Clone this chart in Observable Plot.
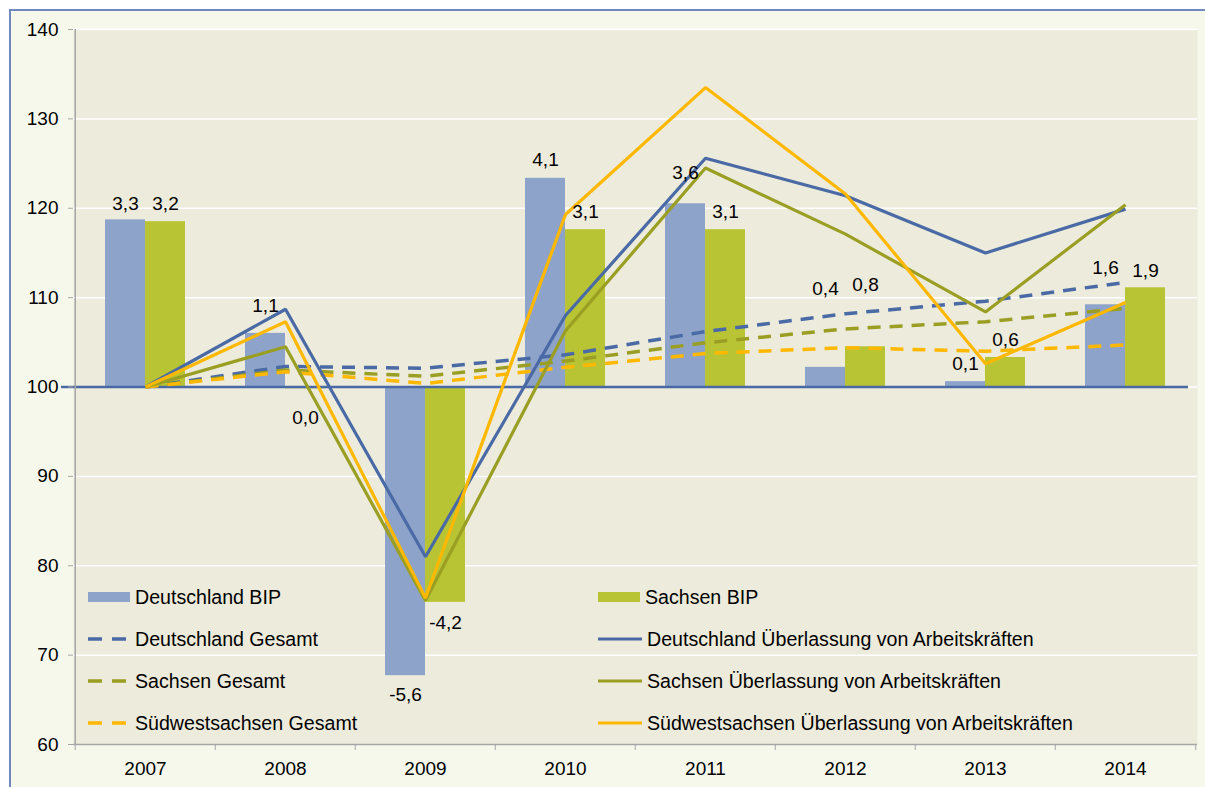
<!DOCTYPE html>
<html>
<head>
<meta charset="utf-8">
<script src="https://cdn.jsdelivr.net/npm/d3@7"></script>
<script src="https://cdn.jsdelivr.net/npm/@observablehq/plot@0.6"></script>
<style>
  html, body { margin: 0; padding: 0; background: #ffffff; width: 1205px; height: 787px; overflow: hidden; }
  #frame { position: absolute; left: 9px; top: 9px; width: 1210px; height: 800px; background: #F7F8EC;
           border-left: 2px solid #7088BC; border-top: 2px solid #7088BC; box-sizing: border-box; }
  #chart { position: absolute; left: 0; top: 0; }
  .lg { position: absolute; font-family: "Liberation Sans", Arial, sans-serif; font-size: 19.6px; color: #000;
        display: flex; align-items: center; white-space: nowrap; height: 24px; }
  .lg svg { margin-right: 5px; }
</style>
</head>
<body>
<div id="frame"></div>
<div id="chart"></div>
<div id="legend"></div>
<script>
// ---- data ----
const years = ["2007", "2008", "2009", "2010", "2011", "2012", "2013", "2014"];
// BIP bars, drawn in index units around the 100 line
const bipDeutschland = [118.7, 106.0, 67.7, 123.35, 120.5, 102.2, 100.6, 109.2];
const bipSachsen     = [118.5, 99.8, 75.9, 117.6, 117.6, 104.5, 103.3, 111.1];
// BIP growth labels
const labelDeutschland = ["3,3", "1,1", "-5,6", "4,1", "3,6", "0,4", "0,1", "1,6"];
const labelSachsen     = ["3,2", "0,0", "-4,2", "3,1", "3,1", "0,8", "0,6", "1,9"];
// label anchor heights (index units)
const labelYDeutschland = [120.5, 109.1, 65.5, 125.4, 124.0, 111.0, 102.6, 113.35];
const labelYSachsen     = [120.5, 96.5, 73.55, 119.6, 119.6, 111.4, 105.3, 113.0];
// Index series (2007 = 100)
const deutschlandGesamt    = [100, 102.3, 102.1, 103.6, 106.2, 108.2, 109.6, 111.7];
const sachsenGesamt        = [100, 101.9, 101.2, 102.9, 104.95, 106.5, 107.3, 108.8];
const suedwestGesamt       = [100, 101.7, 100.4, 102.2, 103.75, 104.4, 104.0, 104.7];
const deutschlandAUe       = [100, 108.7, 81.0, 108.0, 125.6, 121.4, 115.0, 119.9];
const sachsenAUe           = [100, 104.5, 76.1, 106.3, 124.5, 117.1, 108.4, 120.4];
const suedwestAUe          = [100, 107.3, 76.4, 119.3, 133.5, 121.6, 102.6, 109.45];
const yTicks = [60, 70, 80, 90, 100, 110, 120, 130, 140];

// ---- styles ----
const C = {
  deBar: "#8EA3CA", snBar: "#B8C433",
  de: "#4A6AA5", sn: "#9A9F24", sw: "#FFB800",
  plotBg: "#EDEBDB", axis: "#A6A6A6"
};

const rows = years.map((y, i) => ({
  year: y, de: bipDeutschland[i], sn: bipSachsen[i],
  deLab: labelDeutschland[i], snLab: labelSachsen[i],
  deLabY: labelYDeutschland[i], snLabY: labelYSachsen[i]
}));
const seriesDefs = [
  {name: "Deutschland Gesamt", values: deutschlandGesamt, color: C.de, dashed: true},
  {name: "Sachsen Gesamt", values: sachsenGesamt, color: C.sn, dashed: true},
  {name: "Südwestsachsen Gesamt", values: suedwestGesamt, color: C.sw, dashed: true},
  {name: "Deutschland Überlassung von Arbeitskräften", values: deutschlandAUe, color: C.de, dashed: false},
  {name: "Sachsen Überlassung von Arbeitskräften", values: sachsenAUe, color: C.sn, dashed: false},
  {name: "Südwestsachsen Überlassung von Arbeitskräften", values: suedwestAUe, color: C.sw, dashed: false}
];

const W = 1205, H = 787, mL = 73, mR = 8, mT = 29, mB = 43;
const step = (W - mL - mR) / years.length;
const pInner = 1 - 80 / step;
const bw = step * (1 - pInner);

const lineMarks = seriesDefs.map(s => Plot.line(years.map((y, i) => ({year: y, v: s.values[i]})), {
  x: "year", y: "v", stroke: s.color, strokeWidth: s.dashed ? 3.5 : 3.2,
  strokeDasharray: s.dashed ? "13,9" : null, strokeLinejoin: "miter", strokeLinecap: "butt"
}));

const chart = Plot.plot({
  width: W, height: H,
  marginLeft: mL, marginRight: mR, marginTop: mT, marginBottom: mB,
  x: {domain: years, paddingInner: pInner, paddingOuter: pInner / 2, axis: null, label: null},
  y: {domain: [60, 140], axis: null, label: null},
  style: {background: "transparent", fontFamily: "'Liberation Sans', Arial, sans-serif", fontSize: "19px", color: "#000", overflow: "visible"},
  marks: [
    Plot.frame({fill: C.plotBg, stroke: null}),
    Plot.ruleY(yTicks.filter(t => t > 60), {stroke: "#ffffff", strokeWidth: 1.5}),
    Plot.barY(rows, {x: "year", y1: 100, y2: "de", fill: C.deBar, insetRight: bw / 2}),
    Plot.barY(rows, {x: "year", y1: 100, y2: "sn", fill: C.snBar, insetLeft: bw / 2}),
    Plot.ruleY([100], {stroke: C.de, strokeWidth: 2.5, insetLeft: -12, insetRight: 9}),
    Plot.ruleY([60], {stroke: C.axis, strokeWidth: 1.5}),
    Plot.ruleX([years[0]], {y1: 60, y2: 140, dx: -step / 2, stroke: C.axis, strokeWidth: 1.5}),
    Plot.axisY(yTicks, {tickSize: 5, text: null, stroke: C.axis, label: null}),
    Plot.axisY(yTicks, {tickSize: 0, tickPadding: 15, fontSize: 19, fill: "#000", label: null}),
    Plot.axisX(years, {tickSize: 6, text: null, dx: -step / 2, stroke: C.axis, label: null}),
    Plot.axisX([years[years.length - 1]], {tickSize: 6, text: null, dx: step / 2, stroke: C.axis, label: null}),
    Plot.axisX(years, {tickSize: 0, tickPadding: 17, fontSize: 19, fill: "#000", label: null}),
    ...lineMarks,
    Plot.text(rows, {x: "year", y: "deLabY", text: "deLab", dx: -bw / 4, fontSize: 19, fill: "#000"}),
    Plot.text(rows, {x: "year", y: "snLabY", text: "snLab", dx: bw / 4, fontSize: 19, fill: "#000"})
  ]
});
document.getElementById("chart").appendChild(chart);

// ---- legend (inside plot area) ----
const legendItems = [
  {label: "Deutschland BIP", kind: "bar", color: C.deBar, col: 0, row: 0},
  {label: "Sachsen BIP", kind: "bar", color: C.snBar, col: 1, row: 0},
  {label: seriesDefs[0].name, kind: "dash", color: C.de, col: 0, row: 1},
  {label: seriesDefs[3].name, kind: "line", color: C.de, col: 1, row: 1},
  {label: seriesDefs[1].name, kind: "dash", color: C.sn, col: 0, row: 2},
  {label: seriesDefs[4].name, kind: "line", color: C.sn, col: 1, row: 2},
  {label: seriesDefs[2].name, kind: "dash", color: C.sw, col: 0, row: 3},
  {label: seriesDefs[5].name, kind: "line", color: C.sw, col: 1, row: 3}
];
const colX = [88, 598], rowY = [597, 639, 681, 723];
const lg = document.getElementById("legend");
for (const it of legendItems) {
  const d = document.createElement("div");
  d.className = "lg";
  d.style.left = colX[it.col] + "px";
  d.style.top = (rowY[it.row] - 12) + "px";
  let sw;
  if (it.kind === "bar") sw = `<svg width="42" height="12"><rect x="0" y="1" width="42" height="10" fill="${it.color}"/></svg>`;
  else if (it.kind === "dash") sw = `<svg width="42" height="12"><line x1="0" x2="42" y1="6" y2="6" stroke="${it.color}" stroke-width="3.5" stroke-dasharray="14,10"/></svg>`;
  else sw = `<svg width="44" height="12"><line x1="0" x2="44" y1="6" y2="6" stroke="${it.color}" stroke-width="3"/></svg>`;
  d.innerHTML = sw + `<span>${it.label}</span>`;
  lg.appendChild(d);
}
</script>
</body>
</html>
